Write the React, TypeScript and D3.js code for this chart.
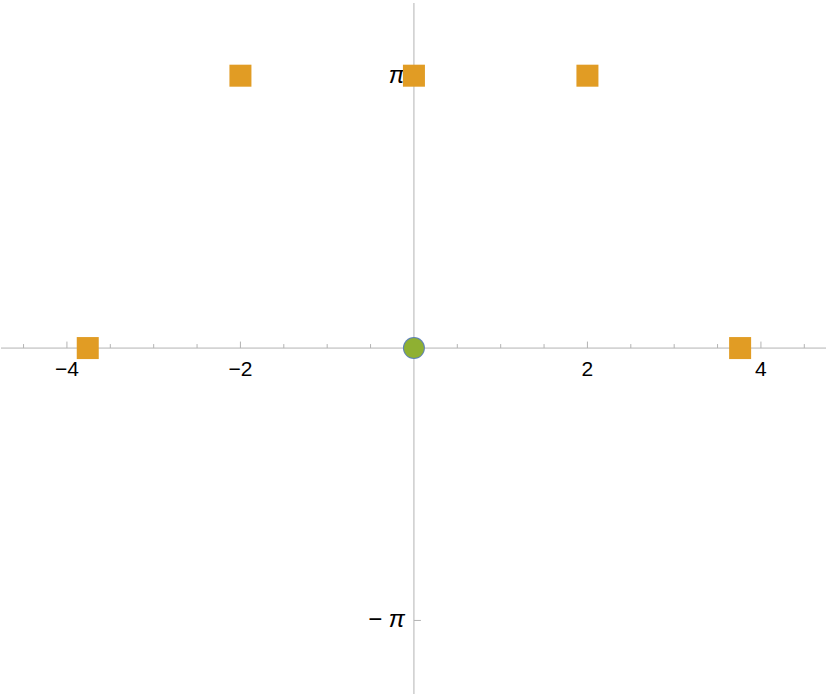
import React from "react";
import * as d3 from "d3";

const W = 830;
const H = 698;

// data
const squareX = [-3.76, -2, 0, 2, 3.76];
const squareY = [0, Math.PI, Math.PI, Math.PI, 0];
const blueX = [0];
const blueY = [0];
const greenX = [0];
const greenY = [0];
const xMajorTicks = [-4, -2, 2, 4];
const xMajorLabels = ["\u22124", "\u22122", "2", "4"];
const xMinorTicks = [-4.5, -3.5, -3, -2.5, -1.5, -1, -0.5, 0.5, 1, 1.5, 2.5, 3, 3.5, 4.5];
const yTicks = [Math.PI, -Math.PI];
const yTickLabels = ["\u03c0", "\u2212\u03c0"];

export default function App() {
  const x = d3.scaleLinear().domain([-4.76, 4.75]).range([1, 826]);
  const y = d3.scaleLinear().domain([3.98, -3.99]).range([3, 694]);
  const x0 = x(0);
  const y0 = y(0);
  const axisColor = "#b3b3b3";
  const font = "'Liberation Sans', Arial, sans-serif";
  return (
    <svg width={W} height={H} style={{ position: "absolute", left: 0, top: 0, background: "#fff" }}>
      {/* axes */}
      <line x1={x.range()[0]} x2={x.range()[1]} y1={y0} y2={y0} stroke={axisColor} strokeWidth={1} />
      <line x1={x0} x2={x0} y1={y.range()[0]} y2={y.range()[1]} stroke={axisColor} strokeWidth={1} />
      {xMinorTicks.map((t, i) => (
        <line key={"mn" + i} x1={x(t)} x2={x(t)} y1={y0} y2={y0 - 4} stroke={axisColor} strokeWidth={1} />
      ))}
      {xMajorTicks.map((t, i) => (
        <g key={"mj" + i}>
          <line x1={x(t)} x2={x(t)} y1={y0} y2={y0 - 6.5} stroke={axisColor} strokeWidth={1} />
          <text x={x(t)} y={y0 + 28} textAnchor="middle" fontSize={21} fontFamily={font} fill="#000">
            {xMajorLabels[i]}
          </text>
        </g>
      ))}
      {yTicks.map((t, i) => (
        <g key={"yt" + i}>
          <line x1={x0} x2={x0 + 7} y1={y(t)} y2={y(t)} stroke={axisColor} strokeWidth={1} />
          <text x={x0 - 9} y={y(t) + 7} textAnchor="end" fontSize={24} fontFamily={font} fill="#000">
            {i === 0 ? (
              <tspan fontStyle="italic">{yTickLabels[0]}</tspan>
            ) : (
              <>
                <tspan>{"\u2212 "}</tspan>
                <tspan fontStyle="italic">{"\u03c0"}</tspan>
              </>
            )}
          </text>
        </g>
      ))}
      {/* points */}
      {blueX.map((v, i) => (
        <circle key={"b" + i} cx={x(v)} cy={y(blueY[i])} r={11} fill="#5E81B5" />
      ))}
      {squareX.map((v, i) => (
        <rect key={"s" + i} x={x(v) - 11} y={y(squareY[i]) - 11} width={22} height={22} fill="#E19C24" />
      ))}
      {greenX.map((v, i) => (
        <circle key={"g" + i} cx={x(v)} cy={y(greenY[i])} r={10} fill="#8FB032" />
      ))}
    </svg>
  );
}
